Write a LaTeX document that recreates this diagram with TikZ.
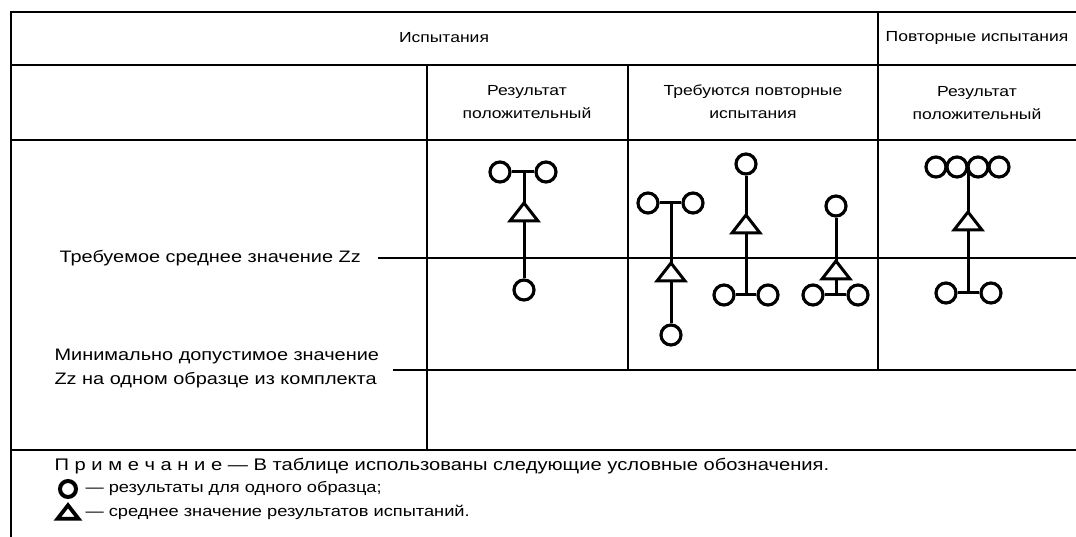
\documentclass[tikz,border=0pt]{standalone}
\usepackage{fontspec}
\setmainfont{Liberation Sans}[FakeStretch=1.2]
\usetikzlibrary{positioning}

\begin{document}
\begin{tikzpicture}[x=1pt,y=-1pt,
	rule/.style={line width=1.8},
	limit/.style={line width=2.6},
	stem/.style={line width=3},
	sample/.style={draw,circle,line width=3.2,minimum size=20,inner sep=0},
	head/.style={font=\fontsize{14.6}{23}\selectfont,align=center},
	sidetext/.style={font=\fontsize{16.6}{24}\selectfont,align=left,anchor=west},
	notetext/.style={font=\fontsize{16.8}{24}\selectfont,anchor=west},
	keytext/.style={font=\fontsize{15.2}{24}\selectfont,anchor=west},
	mean/.pic={\draw[fill=white] (-14,9) -- (14,9) -- (0,-9) -- cycle;}]
	\useasboundingbox (0,0) rectangle (1076,537);
	%table frame, right side is cut off
	\draw[rule] (1076,12) -- (11,12) -- (11,537);
	\draw[rule] (11,65) -- (1076,65);
	\draw[line width=2.4] (11,140) -- (1076,140);
	\draw[rule] (11,450) -- (1076,450);
	\draw[rule] (427,65) -- (427,450);
	\draw[rule] (628,65) -- (628,370);
	\draw[rule] (878,12) -- (878,370);
	%%column heads
	\node[head] (tests) at (444,38) {Испытания};
	\node[head] (retests) at (977,38) {Повторные испытания};
	\node[head] (pass) at (527,102) {Результат\\положительный};
	\node[head] (need) at (753,102) {Требуются повторные\\испытания};
	\node[head] (repass) at (977,103) {Результат\\положительный};
	%%levels
	\node[sidetext] (reqmean) at (56,258) {Требуемое среднее значение Zz};
	\node[sidetext] (minval) at (51,369) {Минимально допустимое значение\\Zz на одном образце из комплекта};
	\draw[limit] (378,258) -- (1076,258);
	\draw[limit] (393,370) -- (1076,370);
	%% result: passed
	\node[sample] (p1a) at (500,172) {};\node[sample] (p1b) at (546,172) {};
	\node[sample] (p1c) at (524,290) {};
	\coordinate (p1t) at (524,172);
	\draw[stem] (p1a) -- (p1b);
	\draw[stem] (p1t) -- (p1c);
	\pic[stem] at (524,212) {mean};
	%% retests needed, three cases
	\node[sample] (r1a) at (648,203) {};\node[sample] (r1b) at (693,203) {};
	\node[sample] (r1c) at (671,335) {};
	\coordinate (r1t) at (671,203);
	\draw[stem] (r1a) -- (r1b);
	\draw[stem] (r1t) -- (r1c);
	\pic[stem] at (671,272) {mean};
	\node[sample] (r2a) at (746,164) {};
	\node[sample] (r2b) at (724,295) {};\node[sample] (r2c) at (768,295) {};
	\coordinate (r2t) at (746,295);
	\draw[stem] (r2b) -- (r2c);
	\draw[stem] (r2a) -- (r2t);
	\pic[stem] at (746,224) {mean};
	\node[sample] (r3a) at (836,206) {};
	\node[sample] (r3b) at (813,295) {};\node[sample] (r3c) at (858,295) {};
	\coordinate (r3t) at (836,295);
	\draw[stem] (r3b) -- (r3c);
	\draw[stem] (r3a) -- (r3t);
	\pic[stem] at (836,270) {mean};
	%% retest passed
	\foreach \i/\x in {1/936,2/957,3/978,4/999}{
		\node[sample] (s\i) at (\x,167) {};
		}
	\coordinate (st) at (968,167);
	\node[sample] (sb) at (946,293) {};\node[sample] (sc) at (991,293) {};
	\coordinate (sm) at (968,293);
	\draw[stem] (sb) -- (sc);
	\draw[stem] (st) -- (sm);
	\pic[stem] at (968,221) {mean};
	%note with the legend
	\node[notetext] (note) at (51,466) {П р и м е ч а н и е — В таблице использованы следующие условные обозначения.};
	\node[sample,line width=4,minimum size=16] (keyo) at (68,489) {};
	\node[keytext,right=4 of keyo] (keyotext) {— результаты для одного образца;};
	\pic[line width=3.8,scale=0.75] at (68,512) {mean};
	\coordinate (keyd) at (78,512);
	\node[keytext,right=4 of keyd] (keydtext) {— среднее значение результатов испытаний.};
\end{tikzpicture}
\end{document}
